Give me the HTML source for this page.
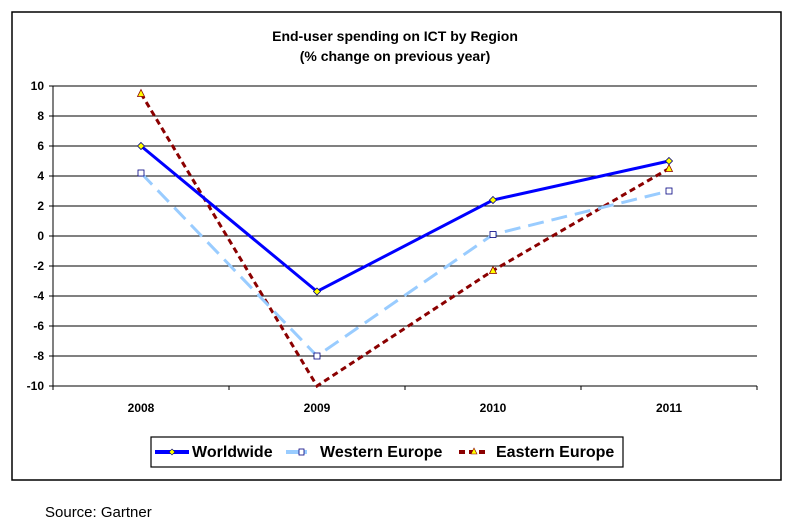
<!DOCTYPE html>
<html><head><meta charset="utf-8"><style>
body{margin:0;background:#fff;}
svg{display:block;font-family:"Liberation Sans",Arial,sans-serif;}
</style></head><body>
<svg width="797" height="526" viewBox="0 0 797 526">
<rect x="12" y="12" width="769" height="468" fill="#fff" stroke="#000" stroke-width="1.5"/>
<text x="395" y="41" text-anchor="middle" font-size="14" font-weight="bold">End-user spending on ICT by Region</text>
<text x="395" y="61" text-anchor="middle" font-size="14" font-weight="bold">(% change on previous year)</text>
<g stroke="#000" stroke-width="1.2" shape-rendering="crispEdges">
<line x1="53" y1="86" x2="757" y2="86"/>
<line x1="53" y1="116" x2="757" y2="116"/>
<line x1="53" y1="146" x2="757" y2="146"/>
<line x1="53" y1="176" x2="757" y2="176"/>
<line x1="53" y1="206" x2="757" y2="206"/>
<line x1="53" y1="236" x2="757" y2="236"/>
<line x1="53" y1="266" x2="757" y2="266"/>
<line x1="53" y1="296" x2="757" y2="296"/>
<line x1="53" y1="326" x2="757" y2="326"/>
<line x1="53" y1="356" x2="757" y2="356"/>
<line x1="53" y1="386" x2="757" y2="386"/>
<line x1="53" y1="86" x2="53" y2="390"/>
<line x1="757" y1="386" x2="757" y2="390"/>
<line x1="229" y1="386" x2="229" y2="390"/>
<line x1="405" y1="386" x2="405" y2="390"/>
<line x1="581" y1="386" x2="581" y2="390"/>
<line x1="49" y1="86" x2="53" y2="86"/><line x1="49" y1="116" x2="53" y2="116"/><line x1="49" y1="146" x2="53" y2="146"/><line x1="49" y1="176" x2="53" y2="176"/><line x1="49" y1="206" x2="53" y2="206"/><line x1="49" y1="236" x2="53" y2="236"/><line x1="49" y1="266" x2="53" y2="266"/><line x1="49" y1="296" x2="53" y2="296"/><line x1="49" y1="326" x2="53" y2="326"/><line x1="49" y1="356" x2="53" y2="356"/><line x1="49" y1="386" x2="53" y2="386"/>
</g>
<g font-size="12" font-weight="bold" text-anchor="end">
<text x="44" y="90">10</text><text x="44" y="120">8</text><text x="44" y="150">6</text><text x="44" y="180">4</text><text x="44" y="210">2</text><text x="44" y="240">0</text><text x="44" y="270">-2</text><text x="44" y="300">-4</text><text x="44" y="330">-6</text><text x="44" y="360">-8</text><text x="44" y="390">-10</text>
</g>
<g font-size="12" font-weight="bold" text-anchor="middle">
<text x="141" y="412">2008</text><text x="317" y="412">2009</text><text x="493" y="412">2010</text><text x="669" y="412">2011</text>
</g>
<polyline points="141,93.5 317,386 493,270.5 669,168.5" fill="none" stroke="#8b0000" stroke-width="3" stroke-dasharray="6,4"/>
<polyline points="141,173 317,356 493,234.5 669,191" fill="none" stroke="#99ccff" stroke-width="3" stroke-dasharray="16,8"/>
<polyline points="141,146 317,291.5 493,200 669,161" fill="none" stroke="#0000ff" stroke-width="3"/>
<g fill="#ffff00" stroke="#8b0000" stroke-width="0.8">
<polygon points="141,89.5 144.5,96.5 137.5,96.5"/><polygon points="493,266.5 496.5,273.5 489.5,273.5"/><polygon points="669,164.5 672.5,171.5 665.5,171.5"/>
</g>
<g fill="#ffffff" stroke="#000080" stroke-width="0.8">
<rect x="138" y="170" width="6" height="6"/><rect x="314" y="353" width="6" height="6"/><rect x="490" y="231.5" width="6" height="6"/><rect x="666" y="188" width="6" height="6"/>
</g>
<g fill="#ffff00" stroke="#000080" stroke-width="0.8">
<polygon points="141,142.5 144.5,146 141,149.5 137.5,146"/><polygon points="317,288 320.5,291.5 317,295 313.5,291.5"/><polygon points="493,196.5 496.5,200 493,203.5 489.5,200"/><polygon points="669,157.5 672.5,161 669,164.5 665.5,161"/>
</g>
<rect x="151" y="437" width="472" height="30" fill="#fff" stroke="#000" stroke-width="1.2"/>
<line x1="155" y1="452" x2="189" y2="452" stroke="#0000ff" stroke-width="4"/>
<polygon points="172,449 175,452 172,455 169,452" fill="#ffff00" stroke="#000080" stroke-width="0.6"/>
<text x="192" y="457" font-size="16" font-weight="bold">Worldwide</text>
<line x1="286" y1="452" x2="307" y2="452" stroke="#99ccff" stroke-width="4"/>
<rect x="299" y="449" width="5" height="6" fill="#fff" stroke="#000080" stroke-width="0.8"/>
<text x="320" y="457" font-size="16" font-weight="bold">Western Europe</text>
<line x1="459" y1="452" x2="486" y2="452" stroke="#8b0000" stroke-width="4" stroke-dasharray="6,4"/>
<polygon points="474,448 477,454 471,454" fill="#ffff00" stroke="#8b0000" stroke-width="0.6"/>
<text x="496" y="457" font-size="16" font-weight="bold">Eastern Europe</text>
<text x="45" y="517" font-size="15">Source: Gartner</text>
</svg>
</body></html>
